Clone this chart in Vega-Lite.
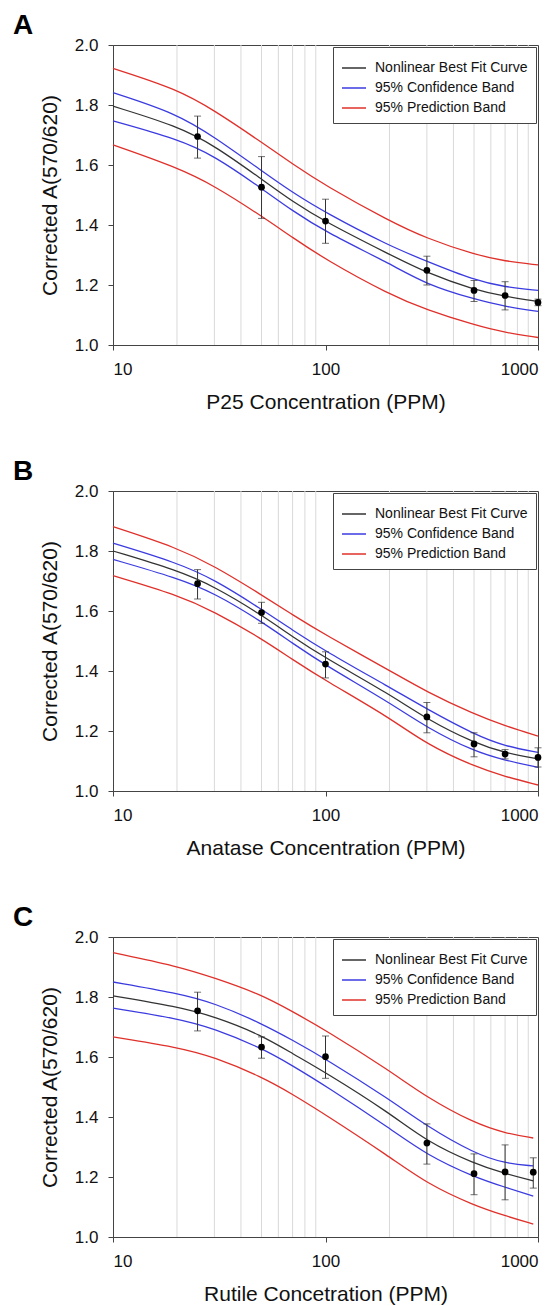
{
  "$schema": "https://vega.github.io/schema/vega-lite/v6.json",
  "padding": {"left": 12, "top": 11, "right": 5, "bottom": 5},
  "background": "white",
  "config": {
    "font": "Liberation Sans",
    "view": {"stroke": "#444444", "strokeWidth": 1},
    "axis": {
      "labelFont": "Liberation Sans", "titleFont": "Liberation Sans",
      "labelFontSize": 17, "titleFontSize": 21, "titleFontWeight": "normal",
      "labelColor": "#111111", "titleColor": "#111111",
      "domainColor": "#444444", "tickColor": "#444444",
      "tickSize": 5, "labelPadding": 10, "grid": false
    },
    "legend": {
      "labelFont": "Liberation Sans", "labelFontSize": 14, "labelColor": "#111111",
      "strokeColor": "#444444", "fillColor": "white", "padding": 8,
      "symbolType": "stroke", "symbolSize": 576, "symbolStrokeWidth": 1.5,
      "labelOffset": 8, "rowPadding": 0, "orient": "top-right", "offset": 2, "title": null
    },
    "title": {"font": "Liberation Sans", "fontSize": 28, "fontWeight": "bold", "color": "#000000", "anchor": "start", "frame": "group", "dx": -100, "offset": -4}
  },
  "datasets": {
    "curves": [
      {"p":"A","s":"Nonlinear Best Fit Curve","c":"fit","x":10,"y":1.796},
      {"p":"A","s":"Nonlinear Best Fit Curve","c":"fit","x":20,"y":1.730},
      {"p":"A","s":"Nonlinear Best Fit Curve","c":"fit","x":30,"y":1.665},
      {"p":"A","s":"Nonlinear Best Fit Curve","c":"fit","x":50,"y":1.553},
      {"p":"A","s":"Nonlinear Best Fit Curve","c":"fit","x":70,"y":1.478},
      {"p":"A","s":"Nonlinear Best Fit Curve","c":"fit","x":100,"y":1.410},
      {"p":"A","s":"Nonlinear Best Fit Curve","c":"fit","x":200,"y":1.302},
      {"p":"A","s":"Nonlinear Best Fit Curve","c":"fit","x":300,"y":1.240},
      {"p":"A","s":"Nonlinear Best Fit Curve","c":"fit","x":500,"y":1.184},
      {"p":"A","s":"Nonlinear Best Fit Curve","c":"fit","x":700,"y":1.162},
      {"p":"A","s":"Nonlinear Best Fit Curve","c":"fit","x":1000,"y":1.145},
      {"p":"A","s":"95% Confidence Band","c":"cu","x":10,"y":1.841},
      {"p":"A","s":"95% Confidence Band","c":"cu","x":20,"y":1.771},
      {"p":"A","s":"95% Confidence Band","c":"cu","x":30,"y":1.693},
      {"p":"A","s":"95% Confidence Band","c":"cu","x":50,"y":1.581},
      {"p":"A","s":"95% Confidence Band","c":"cu","x":70,"y":1.508},
      {"p":"A","s":"95% Confidence Band","c":"cu","x":100,"y":1.441},
      {"p":"A","s":"95% Confidence Band","c":"cu","x":200,"y":1.330},
      {"p":"A","s":"95% Confidence Band","c":"cu","x":300,"y":1.279},
      {"p":"A","s":"95% Confidence Band","c":"cu","x":500,"y":1.216},
      {"p":"A","s":"95% Confidence Band","c":"cu","x":700,"y":1.193},
      {"p":"A","s":"95% Confidence Band","c":"cu","x":1000,"y":1.182},
      {"p":"A","s":"95% Confidence Band","c":"cl","x":10,"y":1.747},
      {"p":"A","s":"95% Confidence Band","c":"cl","x":20,"y":1.687},
      {"p":"A","s":"95% Confidence Band","c":"cl","x":30,"y":1.631},
      {"p":"A","s":"95% Confidence Band","c":"cl","x":50,"y":1.522},
      {"p":"A","s":"95% Confidence Band","c":"cl","x":70,"y":1.447},
      {"p":"A","s":"95% Confidence Band","c":"cl","x":100,"y":1.377},
      {"p":"A","s":"95% Confidence Band","c":"cl","x":200,"y":1.272},
      {"p":"A","s":"95% Confidence Band","c":"cl","x":300,"y":1.201},
      {"p":"A","s":"95% Confidence Band","c":"cl","x":500,"y":1.153},
      {"p":"A","s":"95% Confidence Band","c":"cl","x":700,"y":1.128},
      {"p":"A","s":"95% Confidence Band","c":"cl","x":1000,"y":1.112},
      {"p":"A","s":"95% Prediction Band","c":"pu","x":10,"y":1.922},
      {"p":"A","s":"95% Prediction Band","c":"pu","x":20,"y":1.853},
      {"p":"A","s":"95% Prediction Band","c":"pu","x":30,"y":1.782},
      {"p":"A","s":"95% Prediction Band","c":"pu","x":50,"y":1.676},
      {"p":"A","s":"95% Prediction Band","c":"pu","x":70,"y":1.603},
      {"p":"A","s":"95% Prediction Band","c":"pu","x":100,"y":1.531},
      {"p":"A","s":"95% Prediction Band","c":"pu","x":200,"y":1.413},
      {"p":"A","s":"95% Prediction Band","c":"pu","x":300,"y":1.355},
      {"p":"A","s":"95% Prediction Band","c":"pu","x":500,"y":1.302},
      {"p":"A","s":"95% Prediction Band","c":"pu","x":700,"y":1.279},
      {"p":"A","s":"95% Prediction Band","c":"pu","x":1000,"y":1.267},
      {"p":"A","s":"95% Prediction Band","c":"pl","x":10,"y":1.667},
      {"p":"A","s":"95% Prediction Band","c":"pl","x":20,"y":1.592},
      {"p":"A","s":"95% Prediction Band","c":"pl","x":30,"y":1.531},
      {"p":"A","s":"95% Prediction Band","c":"pl","x":50,"y":1.430},
      {"p":"A","s":"95% Prediction Band","c":"pl","x":70,"y":1.358},
      {"p":"A","s":"95% Prediction Band","c":"pl","x":100,"y":1.285},
      {"p":"A","s":"95% Prediction Band","c":"pl","x":200,"y":1.168},
      {"p":"A","s":"95% Prediction Band","c":"pl","x":300,"y":1.117},
      {"p":"A","s":"95% Prediction Band","c":"pl","x":500,"y":1.067},
      {"p":"A","s":"95% Prediction Band","c":"pl","x":700,"y":1.041},
      {"p":"A","s":"95% Prediction Band","c":"pl","x":1000,"y":1.025},

      {"p":"B","s":"Nonlinear Best Fit Curve","c":"fit","x":10,"y":1.800},
      {"p":"B","s":"Nonlinear Best Fit Curve","c":"fit","x":20,"y":1.736},
      {"p":"B","s":"Nonlinear Best Fit Curve","c":"fit","x":30,"y":1.682},
      {"p":"B","s":"Nonlinear Best Fit Curve","c":"fit","x":50,"y":1.587},
      {"p":"B","s":"Nonlinear Best Fit Curve","c":"fit","x":70,"y":1.514},
      {"p":"B","s":"Nonlinear Best Fit Curve","c":"fit","x":100,"y":1.443},
      {"p":"B","s":"Nonlinear Best Fit Curve","c":"fit","x":200,"y":1.323},
      {"p":"B","s":"Nonlinear Best Fit Curve","c":"fit","x":300,"y":1.239},
      {"p":"B","s":"Nonlinear Best Fit Curve","c":"fit","x":500,"y":1.160},
      {"p":"B","s":"Nonlinear Best Fit Curve","c":"fit","x":700,"y":1.127},
      {"p":"B","s":"Nonlinear Best Fit Curve","c":"fit","x":1000,"y":1.107},
      {"p":"B","s":"95% Confidence Band","c":"cu","x":10,"y":1.826},
      {"p":"B","s":"95% Confidence Band","c":"cu","x":20,"y":1.761},
      {"p":"B","s":"95% Confidence Band","c":"cu","x":30,"y":1.705},
      {"p":"B","s":"95% Confidence Band","c":"cu","x":50,"y":1.606},
      {"p":"B","s":"95% Confidence Band","c":"cu","x":70,"y":1.536},
      {"p":"B","s":"95% Confidence Band","c":"cu","x":100,"y":1.466},
      {"p":"B","s":"95% Confidence Band","c":"cu","x":200,"y":1.346},
      {"p":"B","s":"95% Confidence Band","c":"cu","x":300,"y":1.273},
      {"p":"B","s":"95% Confidence Band","c":"cu","x":500,"y":1.189},
      {"p":"B","s":"95% Confidence Band","c":"cu","x":700,"y":1.149},
      {"p":"B","s":"95% Confidence Band","c":"cu","x":1000,"y":1.129},
      {"p":"B","s":"95% Confidence Band","c":"cl","x":10,"y":1.772},
      {"p":"B","s":"95% Confidence Band","c":"cl","x":20,"y":1.710},
      {"p":"B","s":"95% Confidence Band","c":"cl","x":30,"y":1.660},
      {"p":"B","s":"95% Confidence Band","c":"cl","x":50,"y":1.565},
      {"p":"B","s":"95% Confidence Band","c":"cl","x":70,"y":1.492},
      {"p":"B","s":"95% Confidence Band","c":"cl","x":100,"y":1.419},
      {"p":"B","s":"95% Confidence Band","c":"cl","x":200,"y":1.295},
      {"p":"B","s":"95% Confidence Band","c":"cl","x":300,"y":1.211},
      {"p":"B","s":"95% Confidence Band","c":"cl","x":500,"y":1.132},
      {"p":"B","s":"95% Confidence Band","c":"cl","x":700,"y":1.102},
      {"p":"B","s":"95% Confidence Band","c":"cl","x":1000,"y":1.079},
      {"p":"B","s":"95% Prediction Band","c":"pu","x":10,"y":1.881},
      {"p":"B","s":"95% Prediction Band","c":"pu","x":20,"y":1.811},
      {"p":"B","s":"95% Prediction Band","c":"pu","x":30,"y":1.750},
      {"p":"B","s":"95% Prediction Band","c":"pu","x":50,"y":1.654},
      {"p":"B","s":"95% Prediction Band","c":"pu","x":70,"y":1.587},
      {"p":"B","s":"95% Prediction Band","c":"pu","x":100,"y":1.520},
      {"p":"B","s":"95% Prediction Band","c":"pu","x":200,"y":1.402},
      {"p":"B","s":"95% Prediction Band","c":"pu","x":300,"y":1.330},
      {"p":"B","s":"95% Prediction Band","c":"pu","x":500,"y":1.256},
      {"p":"B","s":"95% Prediction Band","c":"pu","x":700,"y":1.217},
      {"p":"B","s":"95% Prediction Band","c":"pu","x":1000,"y":1.183},
      {"p":"B","s":"95% Prediction Band","c":"pl","x":10,"y":1.718},
      {"p":"B","s":"95% Prediction Band","c":"pl","x":20,"y":1.654},
      {"p":"B","s":"95% Prediction Band","c":"pl","x":30,"y":1.598},
      {"p":"B","s":"95% Prediction Band","c":"pl","x":50,"y":1.508},
      {"p":"B","s":"95% Prediction Band","c":"pl","x":70,"y":1.438},
      {"p":"B","s":"95% Prediction Band","c":"pl","x":100,"y":1.368},
      {"p":"B","s":"95% Prediction Band","c":"pl","x":200,"y":1.245},
      {"p":"B","s":"95% Prediction Band","c":"pl","x":300,"y":1.155},
      {"p":"B","s":"95% Prediction Band","c":"pl","x":500,"y":1.082},
      {"p":"B","s":"95% Prediction Band","c":"pl","x":700,"y":1.048},
      {"p":"B","s":"95% Prediction Band","c":"pl","x":1000,"y":1.020},

      {"p":"C","s":"Nonlinear Best Fit Curve","c":"fit","x":10,"y":1.804},
      {"p":"C","s":"Nonlinear Best Fit Curve","c":"fit","x":20,"y":1.768},
      {"p":"C","s":"Nonlinear Best Fit Curve","c":"fit","x":30,"y":1.735},
      {"p":"C","s":"Nonlinear Best Fit Curve","c":"fit","x":50,"y":1.673},
      {"p":"C","s":"Nonlinear Best Fit Curve","c":"fit","x":70,"y":1.611},
      {"p":"C","s":"Nonlinear Best Fit Curve","c":"fit","x":100,"y":1.549},
      {"p":"C","s":"Nonlinear Best Fit Curve","c":"fit","x":200,"y":1.414},
      {"p":"C","s":"Nonlinear Best Fit Curve","c":"fit","x":300,"y":1.318},
      {"p":"C","s":"Nonlinear Best Fit Curve","c":"fit","x":500,"y":1.245},
      {"p":"C","s":"Nonlinear Best Fit Curve","c":"fit","x":700,"y":1.211},
      {"p":"C","s":"Nonlinear Best Fit Curve","c":"fit","x":950,"y":1.187},
      {"p":"C","s":"95% Confidence Band","c":"cu","x":10,"y":1.850},
      {"p":"C","s":"95% Confidence Band","c":"cu","x":20,"y":1.813},
      {"p":"C","s":"95% Confidence Band","c":"cu","x":30,"y":1.780},
      {"p":"C","s":"95% Confidence Band","c":"cu","x":50,"y":1.712},
      {"p":"C","s":"95% Confidence Band","c":"cu","x":70,"y":1.656},
      {"p":"C","s":"95% Confidence Band","c":"cu","x":100,"y":1.594},
      {"p":"C","s":"95% Confidence Band","c":"cu","x":200,"y":1.459},
      {"p":"C","s":"95% Confidence Band","c":"cu","x":300,"y":1.369},
      {"p":"C","s":"95% Confidence Band","c":"cu","x":500,"y":1.279},
      {"p":"C","s":"95% Confidence Band","c":"cu","x":700,"y":1.245},
      {"p":"C","s":"95% Confidence Band","c":"cu","x":950,"y":1.237},
      {"p":"C","s":"95% Confidence Band","c":"cl","x":10,"y":1.763},
      {"p":"C","s":"95% Confidence Band","c":"cl","x":20,"y":1.729},
      {"p":"C","s":"95% Confidence Band","c":"cl","x":30,"y":1.695},
      {"p":"C","s":"95% Confidence Band","c":"cl","x":50,"y":1.630},
      {"p":"C","s":"95% Confidence Band","c":"cl","x":70,"y":1.571},
      {"p":"C","s":"95% Confidence Band","c":"cl","x":100,"y":1.504},
      {"p":"C","s":"95% Confidence Band","c":"cl","x":200,"y":1.363},
      {"p":"C","s":"95% Confidence Band","c":"cl","x":300,"y":1.273},
      {"p":"C","s":"95% Confidence Band","c":"cl","x":500,"y":1.200},
      {"p":"C","s":"95% Confidence Band","c":"cl","x":700,"y":1.166},
      {"p":"C","s":"95% Confidence Band","c":"cl","x":950,"y":1.136},
      {"p":"C","s":"95% Prediction Band","c":"pu","x":10,"y":1.948},
      {"p":"C","s":"95% Prediction Band","c":"pu","x":20,"y":1.903},
      {"p":"C","s":"95% Prediction Band","c":"pu","x":30,"y":1.864},
      {"p":"C","s":"95% Prediction Band","c":"pu","x":50,"y":1.808},
      {"p":"C","s":"95% Prediction Band","c":"pu","x":70,"y":1.751},
      {"p":"C","s":"95% Prediction Band","c":"pu","x":100,"y":1.690},
      {"p":"C","s":"95% Prediction Band","c":"pu","x":200,"y":1.555},
      {"p":"C","s":"95% Prediction Band","c":"pu","x":300,"y":1.465},
      {"p":"C","s":"95% Prediction Band","c":"pu","x":500,"y":1.380},
      {"p":"C","s":"95% Prediction Band","c":"pu","x":700,"y":1.346},
      {"p":"C","s":"95% Prediction Band","c":"pu","x":950,"y":1.330},
      {"p":"C","s":"95% Prediction Band","c":"pl","x":10,"y":1.667},
      {"p":"C","s":"95% Prediction Band","c":"pl","x":20,"y":1.633},
      {"p":"C","s":"95% Prediction Band","c":"pl","x":30,"y":1.600},
      {"p":"C","s":"95% Prediction Band","c":"pl","x":50,"y":1.534},
      {"p":"C","s":"95% Prediction Band","c":"pl","x":70,"y":1.476},
      {"p":"C","s":"95% Prediction Band","c":"pl","x":100,"y":1.408},
      {"p":"C","s":"95% Prediction Band","c":"pl","x":200,"y":1.268},
      {"p":"C","s":"95% Prediction Band","c":"pl","x":300,"y":1.178},
      {"p":"C","s":"95% Prediction Band","c":"pl","x":500,"y":1.105},
      {"p":"C","s":"95% Prediction Band","c":"pl","x":700,"y":1.071},
      {"p":"C","s":"95% Prediction Band","c":"pl","x":950,"y":1.043}
    ],
    "points": [
      {"p":"A","x":25,"y":1.695,"lo":1.623,"hi":1.763},
      {"p":"A","x":50,"y":1.526,"lo":1.422,"hi":1.628},
      {"p":"A","x":100,"y":1.413,"lo":1.339,"hi":1.486},
      {"p":"A","x":300,"y":1.249,"lo":1.200,"hi":1.296},
      {"p":"A","x":500,"y":1.182,"lo":1.145,"hi":1.215},
      {"p":"A","x":700,"y":1.165,"lo":1.117,"hi":1.211},
      {"p":"A","x":1000,"y":1.142,"lo":1.131,"hi":1.153},
      {"p":"B","x":25,"y":1.691,"lo":1.640,"hi":1.738},
      {"p":"B","x":50,"y":1.595,"lo":1.559,"hi":1.629},
      {"p":"B","x":100,"y":1.423,"lo":1.377,"hi":1.464},
      {"p":"B","x":300,"y":1.247,"lo":1.194,"hi":1.295},
      {"p":"B","x":500,"y":1.157,"lo":1.114,"hi":1.194},
      {"p":"B","x":700,"y":1.123,"lo":1.107,"hi":1.138},
      {"p":"B","x":1000,"y":1.112,"lo":1.080,"hi":1.144},
      {"p":"C","x":25,"y":1.754,"lo":1.687,"hi":1.816},
      {"p":"C","x":50,"y":1.633,"lo":1.596,"hi":1.667},
      {"p":"C","x":100,"y":1.601,"lo":1.529,"hi":1.670},
      {"p":"C","x":300,"y":1.313,"lo":1.243,"hi":1.377},
      {"p":"C","x":500,"y":1.211,"lo":1.141,"hi":1.277},
      {"p":"C","x":700,"y":1.217,"lo":1.124,"hi":1.307},
      {"p":"C","x":950,"y":1.216,"lo":1.163,"hi":1.264}
    ],
    "grid": [
      {"g":20},{"g":30},{"g":40},{"g":50},{"g":60},{"g":70},{"g":80},{"g":90},
      {"g":200},{"g":300},{"g":400},{"g":500},{"g":600},{"g":700},{"g":800},{"g":900}
    ]
  },
  "spacing": 44,
  "resolve": {"scale": {"color": "independent"}, "legend": {"color": "independent"}},
  "vconcat": [
    {
      "title": {"text": "A"},
      "width": 425, "height": 300,
      "layer": [
        {"data": {"name": "grid"}, "mark": {"type": "rule", "color": "#d9d9d9", "strokeWidth": 1},
         "encoding": {"x": {"field": "g", "type": "quantitative", "scale": {"type": "log", "domain": [10, 1000]}, "axis": {"values": [10, 100, 1000], "format": "d", "title": "P25 Concentration (PPM)", "titlePadding": 14, "labelPadding": 11}}}},
        {"data": {"name": "curves"}, "transform": [{"filter": "datum.p === 'A'"}],
         "mark": {"type": "line", "interpolate": "basis", "strokeWidth": 1.3},
         "encoding": {
           "x": {"field": "x", "type": "quantitative"},
           "y": {"field": "y", "type": "quantitative", "title": "Corrected A(570/620)", "scale": {"domain": [1, 2], "nice": false, "zero": false}, "axis": {"values": [1, 1.2, 1.4, 1.6, 1.8, 2.0], "format": ".1f", "titlePadding": 14}},
           "color": {"field": "s", "type": "nominal", "scale": {"domain": ["Nonlinear Best Fit Curve", "95% Confidence Band", "95% Prediction Band"], "range": ["#333333", "#3b3be0", "#e0302a"]}, "legend": {"rowPadding": 0, "symbolSize": 576}},
           "detail": {"field": "c"}
         }},
        {"data": {"name": "points"}, "transform": [{"filter": "datum.p === 'A'"}],
         "mark": {"type": "errorbar", "ticks": {"size": 7, "color": "#333333"}, "rule": {"color": "#333333", "strokeWidth": 1}},
         "encoding": {"x": {"field": "x", "type": "quantitative"}, "y": {"field": "lo", "type": "quantitative", "title": "Corrected A(570/620)"}, "y2": {"field": "hi"}}},
        {"data": {"name": "points"}, "transform": [{"filter": "datum.p === 'A'"}],
         "mark": {"type": "point", "filled": true, "shape": "circle", "size": 45, "color": "#000000", "opacity": 1},
         "encoding": {"x": {"field": "x", "type": "quantitative"}, "y": {"field": "y", "type": "quantitative", "title": "Corrected A(570/620)"}}}
      ]
    },
    {
      "title": {"text": "B"},
      "width": 425, "height": 300,
      "layer": [
        {"data": {"name": "grid"}, "mark": {"type": "rule", "color": "#d9d9d9", "strokeWidth": 1},
         "encoding": {"x": {"field": "g", "type": "quantitative", "scale": {"type": "log", "domain": [10, 1000]}, "axis": {"values": [10, 100, 1000], "format": "d", "title": "Anatase Concentration (PPM)", "titlePadding": 14, "labelPadding": 11}}}},
        {"data": {"name": "curves"}, "transform": [{"filter": "datum.p === 'B'"}],
         "mark": {"type": "line", "interpolate": "basis", "strokeWidth": 1.3},
         "encoding": {
           "x": {"field": "x", "type": "quantitative"},
           "y": {"field": "y", "type": "quantitative", "title": "Corrected A(570/620)", "scale": {"domain": [1, 2], "nice": false, "zero": false}, "axis": {"values": [1, 1.2, 1.4, 1.6, 1.8, 2.0], "format": ".1f", "titlePadding": 14}},
           "color": {"field": "s", "type": "nominal", "scale": {"domain": ["Nonlinear Best Fit Curve", "95% Confidence Band", "95% Prediction Band"], "range": ["#333333", "#3b3be0", "#e0302a"]}, "legend": {"rowPadding": 0, "symbolSize": 576}},
           "detail": {"field": "c"}
         }},
        {"data": {"name": "points"}, "transform": [{"filter": "datum.p === 'B'"}],
         "mark": {"type": "errorbar", "ticks": {"size": 7, "color": "#333333"}, "rule": {"color": "#333333", "strokeWidth": 1}},
         "encoding": {"x": {"field": "x", "type": "quantitative"}, "y": {"field": "lo", "type": "quantitative", "title": "Corrected A(570/620)"}, "y2": {"field": "hi"}}},
        {"data": {"name": "points"}, "transform": [{"filter": "datum.p === 'B'"}],
         "mark": {"type": "point", "filled": true, "shape": "circle", "size": 45, "color": "#000000", "opacity": 1},
         "encoding": {"x": {"field": "x", "type": "quantitative"}, "y": {"field": "y", "type": "quantitative", "title": "Corrected A(570/620)"}}}
      ]
    },
    {
      "title": {"text": "C"},
      "width": 425, "height": 300,
      "layer": [
        {"data": {"name": "grid"}, "mark": {"type": "rule", "color": "#d9d9d9", "strokeWidth": 1},
         "encoding": {"x": {"field": "g", "type": "quantitative", "scale": {"type": "log", "domain": [10, 1000]}, "axis": {"values": [10, 100, 1000], "format": "d", "title": "Rutile Concetration (PPM)", "titlePadding": 14, "labelPadding": 11}}}},
        {"data": {"name": "curves"}, "transform": [{"filter": "datum.p === 'C'"}],
         "mark": {"type": "line", "interpolate": "basis", "strokeWidth": 1.3},
         "encoding": {
           "x": {"field": "x", "type": "quantitative"},
           "y": {"field": "y", "type": "quantitative", "title": "Corrected A(570/620)", "scale": {"domain": [1, 2], "nice": false, "zero": false}, "axis": {"values": [1, 1.2, 1.4, 1.6, 1.8, 2.0], "format": ".1f", "titlePadding": 14}},
           "color": {"field": "s", "type": "nominal", "scale": {"domain": ["Nonlinear Best Fit Curve", "95% Confidence Band", "95% Prediction Band"], "range": ["#333333", "#3b3be0", "#e0302a"]}, "legend": {"rowPadding": 0, "symbolSize": 576}},
           "detail": {"field": "c"}
         }},
        {"data": {"name": "points"}, "transform": [{"filter": "datum.p === 'C'"}],
         "mark": {"type": "errorbar", "ticks": {"size": 7, "color": "#333333"}, "rule": {"color": "#333333", "strokeWidth": 1}},
         "encoding": {"x": {"field": "x", "type": "quantitative"}, "y": {"field": "lo", "type": "quantitative", "title": "Corrected A(570/620)"}, "y2": {"field": "hi"}}},
        {"data": {"name": "points"}, "transform": [{"filter": "datum.p === 'C'"}],
         "mark": {"type": "point", "filled": true, "shape": "circle", "size": 45, "color": "#000000", "opacity": 1},
         "encoding": {"x": {"field": "x", "type": "quantitative"}, "y": {"field": "y", "type": "quantitative", "title": "Corrected A(570/620)"}}}
      ]
    }
  ]
}
